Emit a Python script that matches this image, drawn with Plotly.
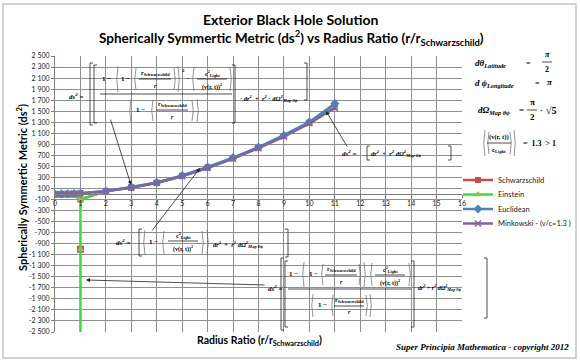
import plotly.graph_objects as go

# ---------------- data ----------------
r_ratio = [0, 0.25, 0.5, 0.75, 1, 2, 3, 4, 5, 6, 7, 8, 9, 10, 11]
schwarzschild = [-15, -15, -14, -12, -100, 52, 118, 204, 328, 478, 648, 838, 1050, 1292, 1580]
schwarzschild_singular_r = [1]
schwarzschild_singular_value = [-1000]
einstein_r = [0, 0.25, 0.5, 0.75, 1, 1, 1, 1, 2, 3, 4, 5, 6, 7, 8, 9, 10, 11]
einstein = [-15, -15, -14, -12, -100, -1000, -2600, -100, 52, 117, 203, 327, 476, 646, 836, 1045, 1285, 1570]
euclidean = [1, 2, 4, 8, 13, 55, 125, 210, 335, 490, 660, 850, 1065, 1305, 1640]
minkowski = [0, 1, 3, 7, 12, 50, 115, 200, 320, 470, 640, 830, 1040, 1280, 1560]

x_tick_values = list(range(0, 17))
y_tick_values = [2500, 2300, 2100, 1900, 1700, 1500, 1300, 1100, 900, 700, 500, 300, 100,
                 -100, -300, -500, -700, -900, -1100, -1300, -1500, -1700, -1900, -2100, -2300, -2500]
y_tick_labels = ["2 500", "2 300", "2 100", "1 900", "1 700", "1 500", "1 300", "1 100", "900", "700",
                 "500", "300", "100", "-100", "-300", "-500", "-700", "-900", "-1 100", "-1 300",
                 "-1 500", "-1 700", "-1 900", "-2 100", "-2 300", "-2 500"]

# ---------------- styling ----------------
SANS = "Lato"
SERIF = "Liberation Serif"
C_RED = "#C0504D"
C_GREEN = "#3CDC3C"
C_BLUE = "#4F81BD"
C_PURPLE = "#8064A2"
GRID = "#8f8f8f"

# plot area in pixels
L, R, T, B = 55, 462, 56, 332
W, H = R - L, B - T


def fx(px):
    return (px - L) / W


def fy(py):
    return (B - py) / H


fig = go.Figure()
fig.add_trace(go.Scatter(x=r_ratio, y=schwarzschild, name="Schwarzschild", mode="lines+markers",
                         line=dict(color=C_RED, width=2.5), legendgroup="s", legend="legend",
                         marker=dict(symbol="square", size=6, color=C_RED)))
fig.add_trace(go.Scatter(x=schwarzschild_singular_r, y=schwarzschild_singular_value, mode="markers",
                         marker=dict(symbol="square", size=7, color=C_RED), legendgroup="s",
                         showlegend=False, name="Schwarzschild"))
fig.add_trace(go.Scatter(x=einstein_r, y=einstein, name="Einstein", mode="lines+markers",
                         line=dict(color=C_GREEN, width=2.5), legend="legend2",
                         marker=dict(symbol="triangle-up", size=7, color="#9BBB59")))
fig.add_trace(go.Scatter(x=r_ratio, y=euclidean, name="Euclidean", mode="lines+markers",
                         line=dict(color=C_BLUE, width=2.5), legend="legend3",
                         marker=dict(symbol="diamond", size=7, color=C_BLUE)))
fig.add_trace(go.Scatter(x=r_ratio, y=minkowski, name="Minkowski - (v/c=1.3 )", mode="lines+markers",
                         line=dict(color=C_PURPLE, width=2.5), legend="legend4",
                         marker=dict(symbol="x-thin", size=6, line=dict(color=C_PURPLE, width=1.5))))

ann = []
shp = []


def txt(px, py, s, size=7, anchor="center", family=SERIF, color="black", angle=0):
    ann.append(dict(x=fx(px), y=fy(py), xref="paper", yref="paper", text=s, showarrow=False,
                    xanchor=anchor, yanchor="middle", textangle=angle, borderpad=0,
                    font=dict(family=family, size=size, color=color)))


def hline(x0, x1, y, w=0.7):
    shp.append(dict(type="line", xref="paper", yref="paper", x0=fx(x0), x1=fx(x1), y0=fy(y), y1=fy(y),
                    line=dict(color="black", width=w), layer="above"))


def bracket(x, y0, y1, side="left", tick=3, w=0.8, color="#222"):
    d = tick if side == "left" else -tick
    path = f"M {fx(x + d)},{fy(y0)} L {fx(x)},{fy(y0)} L {fx(x)},{fy(y1)} L {fx(x + d)},{fy(y1)}"
    shp.append(dict(type="path", xref="paper", yref="paper", path=path,
                    line=dict(color=color, width=w), layer="above"))


def paren(x, y0, y1, side="left", bulge=2.5, w=0.7, color="#666"):
    d = -bulge if side == "left" else bulge
    xm = x + d
    path = f"M {fx(x)},{fy(y0)} Q {fx(xm)},{fy((y0 + y1) / 2)} {fx(x)},{fy(y1)}"
    shp.append(dict(type="path", xref="paper", yref="paper", path=path,
                    line=dict(color=color, width=w), layer="above"))


def frac(cx, top, bottom, ytop, ybar, ybot, half, size=6):
    txt(cx, ytop, top, size=size)
    hline(cx - half, cx + half, ybar)
    txt(cx, ybot, bottom, size=size)


BI = lambda s: f"<b><i>{s}</i></b>"
B_ = lambda s: f"<b>{s}</b>"
RS = B_("r<sub>Schwarzschild</sub>")
RR = BI("r")
CL = B_("c<sup>2</sup><sub>Light</sub>")
VR = B_("(v(r, t))<sup>2</sup>")
DS = BI("ds<sup>2</sup>") + B_(" =")
TAIL = BI("dr<sup>2</sup>") + "  " + B_("+") + "  " + BI("r<sup>2</sup>") + " " + BI("dΩ<sup>2</sup><sub>Map θϕ</sub>")

# ---------- equation 1 (top left) ----------
txt(76, 96, DS, size=7)
bracket(90, 63, 125); bracket(94, 65, 123)
txt(106, 79, B_("1 −"), size=7)
paren(118, 66, 92)
txt(125, 79, B_("1 −"), size=7)
paren(136, 68, 90)
frac(155, RS, RR, 73, 79, 86, 16, size=6)
paren(174, 68, 90, "right")
paren(178, 66, 92, "right")
txt(183, 70, B_("2"), size=5)
txt(188, 79, B_("·"), size=7)
paren(194, 67, 91)
frac(212, CL, VR, 73, 79, 86, 15, size=6)
paren(230, 67, 91, "right")
hline(100, 232, 94)
paren(131, 99, 122)
txt(140, 110, B_("1 −"), size=7)
paren(153, 100, 121)
frac(172, RS, RR, 104, 110, 117, 16, size=6)
paren(192, 100, 121, "right")
paren(197, 99, 122, "right")
bracket(235, 65, 123, "right")
txt(239, 98, B_("·") + " " + BI("dr<sup>2</sup>") + "  " + B_("+") + "  " + BI("r<sup>2</sup>") + " " + B_("·") + " "
    + BI("dΩ<sup>2</sup><sub>Map θϕ</sub>"), size=6.5, anchor="left")
bracket(307, 63, 100, "right")

# ---------- equation 2 (right of curve) ----------
txt(349, 153, DS, size=7)
bracket(367, 146, 160)
txt(370, 153, TAIL, size=6.5, anchor="left")
bracket(451, 146, 160, "right")

# ---------- equation 3 (middle) ----------
txt(123, 242, DS, size=7)
bracket(139, 229, 256)
paren(145, 230, 255)
txt(153, 242, B_("1 −"), size=7)
paren(164, 231, 254)
frac(183, CL, VR, 235, 241, 248, 15, size=6)
paren(202, 231, 254, "right")
paren(207, 230, 255, "right")
txt(212, 244, TAIL, size=6.5, anchor="left")
bracket(288, 229, 257, "right")

# ---------- equation 4 (bottom right) ----------
txt(275, 288, DS, size=7)
bracket(281, 258, 330); bracket(285, 261, 327)
txt(293, 274, B_("1 −"), size=7)
paren(304, 262, 287)
txt(313, 274, B_("1 −"), size=7)
paren(323, 264, 285)
frac(341, RS, RR, 269, 275, 282, 16, size=6)
paren(359, 264, 285, "right")
paren(364, 262, 287, "right")
paren(372, 263, 286)
frac(390, CL, VR, 269, 275, 282, 15, size=6)
paren(409, 263, 286, "right")
hline(288, 411, 289)
paren(313, 294, 317)
txt(322, 305, B_("1 −"), size=7)
paren(333, 295, 316)
frac(349, RS, RR, 300, 306, 312, 15, size=6)
paren(366, 295, 316, "right")
paren(370, 294, 317, "right")
bracket(414, 261, 327, "right")
txt(417, 287, BI("dr<sup>2</sup>") + " + " + BI("r<sup>2</sup>") + " " + BI("dΩ<sup>2</sup><sub>Map θϕ</sub>"),
    size=6, anchor="left")
bracket(487, 258, 318, "right")

# ---------- right-hand definitions ----------
txt(474, 63, BI("dθ") + "<sub>" + BI("Latitude") + "</sub>", size=9, anchor="left")
txt(528, 63, B_("="), size=8)
frac(547, BI("π"), B_("2"), 55, 62, 69, 5, size=8)
txt(474, 83, BI("d ϕ") + "<sub>" + BI("Longitude") + "</sub>", size=9, anchor="left")
txt(537, 83, B_("="), size=8)
txt(550, 82, BI("π"), size=9)
txt(477, 110, BI("dΩ") + "<sub>" + BI("Map θϕ") + "</sub>", size=9, anchor="left")
txt(521, 110, B_("="), size=9)
frac(532, B_("π"), B_("2"), 102, 110, 117, 5, size=9)
txt(541, 110, B_("·"), size=8)
txt(551, 110, B_("√5"), size=10)
paren(485, 130, 156)
paren(489, 132, 154)
frac(499, B_("(v(r, t))"), B_("c<sub>Light</sub>"), 137, 143, 150, 12, size=6.5)
paren(510, 132, 154, "right")
paren(514, 130, 156, "right")
txt(539, 143, B_("=  1.3  > 1"), size=8)

# ---------- arrows ----------
for hx, hy, tx, ty in [(131, 185, 110, 118), (326, 111, 348, 148), (200, 168, 151, 232), (86, 280, 266, 285)]:
    ann.append(dict(x=fx(hx), y=fy(hy), xref="paper", yref="paper", text="", showarrow=True,
                    ax=tx - hx, ay=ty - hy, arrowhead=2, arrowsize=1, arrowwidth=0.8, arrowcolor="#222"))

# ---------- titles ----------
txt(291, 19, "<b>Exterior Black Hole Solution</b>", size=14, family=SANS)
txt(291, 38, "<b>Spherically Symmertic Metric (ds<sup>2</sup>) vs Radius Ratio (r/r<sub>Schwarzschild</sub>)</b>",
    size=13.5, family=SANS)
txt(21, 188, "<b>Spherically Symmertic Metric (ds<sup>2</sup>)</b>", size=11, family=SANS, angle=-90)
txt(259, 341, "<b>Radius Ratio (r/r<sub>Schwarzschild</sub>)</b>", size=10.5, family=SANS)
txt(570, 347, "<b><i>Super Principia Mathematica - copyright 2012</i></b>", size=9, family=SERIF, anchor="right")

# outer border
shp.append(dict(type="rect", xref="paper", yref="paper", x0=fx(3), x1=fx(576), y0=fy(4), y1=fy(358),
                line=dict(color="#c4c4c4", width=1.5), layer="below"))

legend_style = dict(xanchor="left", yanchor="middle", bgcolor="rgba(0,0,0,0)",
                    font=dict(family=SANS, size=7.5, color="#222"), itemwidth=30)

fig.update_layout(
    width=580, height=361,
    margin=dict(l=L, r=580 - R, t=T, b=361 - B, autoexpand=False),
    paper_bgcolor="white", plot_bgcolor="white",
    annotations=ann, shapes=shp,
    legend=dict(x=fx(458), y=fy(180), **legend_style),
    legend2=dict(x=fx(458), y=fy(194.5), **legend_style),
    legend3=dict(x=fx(458), y=fy(209), **legend_style),
    legend4=dict(x=fx(458), y=fy(223.5), **legend_style),
    xaxis=dict(range=[0, 16], tickvals=x_tick_values, showgrid=True, gridcolor=GRID, gridwidth=1,
               anchor="free", position=0.5, showline=True, linecolor="#7f7f7f", linewidth=1,
               ticks="outside", ticklen=3, tickcolor="#7f7f7f", zeroline=False,
               tickfont=dict(family=SANS, size=7, color="#222")),
    yaxis=dict(range=[-2500, 2500], tickvals=y_tick_values, ticktext=y_tick_labels, showgrid=True,
               gridcolor=GRID, gridwidth=1, zeroline=False, showline=True, linecolor="#7f7f7f",
               ticks="outside", ticklen=3, tickcolor="#7f7f7f",
               tickfont=dict(family=SANS, size=7, color="#222")),
)

fig.write_html("out.html", config={"displayModeBar": False},
               post_script="document.body.style.margin='0';")
